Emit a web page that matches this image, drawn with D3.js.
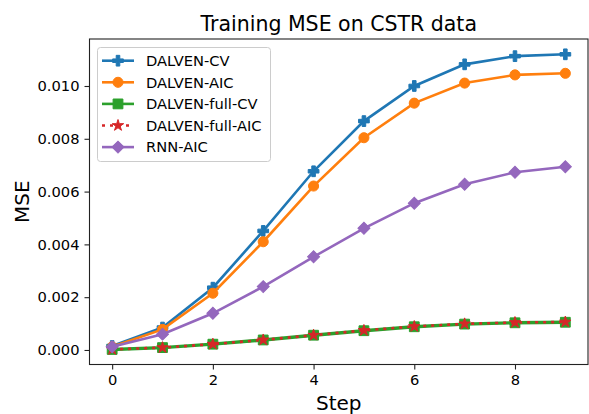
<!DOCTYPE html>
<meta charset="utf-8">
<head>
    <script src="https://d3js.org/d3.v7.min.js"></script>
    <title>Training MSE on CSTR data</title>
    <style>
        body { margin: 0; background: #fff; }
        text { font-family: "DejaVu Sans", sans-serif; fill: #000; }
    </style>
</head>
<body>
    <svg width="589" height="414"></svg>
    <script>
        // data
        var steps = [0, 1, 2, 3, 4, 5, 6, 7, 8, 9];
        var dalvenCV = [0.00015, 0.00085, 0.00236, 0.00451, 0.00677, 0.00867, 0.01000, 0.01082, 0.01113, 0.01120];
        var dalvenAIC = [0.00012, 0.00078, 0.00215, 0.00410, 0.00621, 0.00804, 0.00935, 0.01011, 0.01042, 0.01048];
        var dalvenFullCV = [0.00002, 0.00009, 0.00022, 0.00038, 0.00056, 0.00073, 0.00088, 0.00098, 0.00103, 0.00105];
        var dalvenFullAIC = [0.00002, 0.00009, 0.00022, 0.00038, 0.00056, 0.00074, 0.00089, 0.00099, 0.00104, 0.00106];
        var rnnAIC = [0.00012, 0.00060, 0.00139, 0.00240, 0.00353, 0.00461, 0.00556, 0.00628, 0.00673, 0.00694];
        var xTicks = [0, 2, 4, 6, 8];
        var yTicks = [0, 0.002, 0.004, 0.006, 0.008, 0.010];

        var series = [
            { name: "DALVEN-CV", values: dalvenCV, color: "#1f77b4", marker: "plus", dash: null },
            { name: "DALVEN-AIC", values: dalvenAIC, color: "#ff7f0e", marker: "circle", dash: null },
            { name: "DALVEN-full-CV", values: dalvenFullCV, color: "#2ca02c", marker: "square", dash: null },
            { name: "DALVEN-full-AIC", values: dalvenFullAIC, color: "#d62728", marker: "star", dash: "3,5" },
            { name: "RNN-AIC", values: rnnAIC, color: "#9467bd", marker: "diamond", dash: null }
        ];

        var svg = d3.select("svg");
        var axLeft = 89.5, axRight = 588, axTop = 39, axBottom = 364.5;

        var x = d3.scaleLinear().domain([-0.45, 9.45]).range([axLeft, axRight]);
        var y = d3.scaleLinear().domain([-0.00055, 0.01178]).range([axBottom, axTop]);

        function markerPath(type) {
            if (type == "plus") return d3.symbol(d3.symbolCross, 64)();
            if (type == "circle") return d3.symbol(d3.symbolCircle, 80)();
            if (type == "square") return d3.symbol(d3.symbolSquare, 96)();
            if (type == "star") return d3.symbol(d3.symbolStar, 40)();
            if (type == "diamond") return d3.symbol(d3.symbolSquare, 72)();
        }
        function markerRot(type) {
            return type == "diamond" ? " rotate(45)" : "";
        }

        // axes frame
        svg.append("rect")
            .attr("x", axLeft).attr("y", axTop)
            .attr("width", axRight - axLeft).attr("height", axBottom - axTop)
            .attr("fill", "none").attr("stroke", "#222").attr("stroke-width", 1.1);

        // ticks
        var xAxis = svg.append("g")
            .attr("transform", "translate(0," + axBottom + ")")
            .call(d3.axisBottom(x).tickValues(xTicks).tickSize(5).tickPadding(5).tickFormat(d3.format("d")));
        var yAxis = svg.append("g")
            .attr("transform", "translate(" + axLeft + ",0)")
            .call(d3.axisLeft(y).tickValues(yTicks).tickSize(5).tickPadding(5).tickFormat(d3.format(".3f")));
        [xAxis, yAxis].forEach(function (a) {
            a.select(".domain").remove();
            a.selectAll("line").attr("stroke", "#222").attr("stroke-width", 1.1);
            a.selectAll("text").attr("font-size", "14.7px").attr("font-family", "DejaVu Sans").attr("fill", "#000");
        });

        // lines and markers
        var line = d3.line()
            .x(function (d, i) { return x(steps[i]); })
            .y(function (d) { return y(d); });

        series.forEach(function (s) {
            var g = svg.append("g");
            g.append("path")
                .attr("d", line(s.values))
                .attr("fill", "none")
                .attr("stroke", s.color)
                .attr("stroke-width", s.marker == "square" ? 3.4 : 2.6)
                .attr("stroke-dasharray", s.dash);
            g.selectAll("path.m")
                .data(s.values)
                .enter().append("path")
                .attr("class", "m")
                .attr("d", markerPath(s.marker))
                .attr("transform", function (d, i) { return "translate(" + x(steps[i]) + "," + y(d) + ")" + markerRot(s.marker); })
                .attr("fill", s.color)
                .attr("stroke", s.color)
                .attr("stroke-width", 1);
        });

        // title and axis labels
        svg.append("text")
            .attr("x", (axLeft + axRight) / 2).attr("y", 31)
            .attr("text-anchor", "middle")
            .attr("font-size", "20.5px")
            .text("Training MSE on CSTR data");
        svg.append("text")
            .attr("x", (axLeft + axRight) / 2).attr("y", 410)
            .attr("text-anchor", "middle")
            .attr("font-size", "20px")
            .text("Step");
        svg.append("text")
            .attr("transform", "translate(29," + (axTop + axBottom) / 2 + ") rotate(-90)")
            .attr("text-anchor", "middle")
            .attr("font-size", "20px")
            .text("MSE");

        // legend
        var legend = svg.append("g");
        legend.append("rect")
            .attr("x", 97.5).attr("y", 47.5)
            .attr("width", 173).attr("height", 114)
            .attr("rx", 3)
            .attr("fill", "#fff").attr("fill-opacity", 0.8)
            .attr("stroke", "#ccc").attr("stroke-width", 1);
        var item = legend.selectAll("g.item")
            .data(series)
            .enter().append("g")
            .attr("class", "item")
            .attr("transform", function (d, i) { return "translate(0," + (60.7 + i * 21.6) + ")"; });
        item.append("line")
            .attr("x1", 102).attr("x2", 134)
            .attr("stroke", function (d) { return d.color; })
            .attr("stroke-width", 2.6)
            .attr("stroke-dasharray", function (d) { return d.dash; });
        item.append("path")
            .attr("d", function (d) { return markerPath(d.marker); })
            .attr("transform", function (d) { return "translate(118,0)" + markerRot(d.marker); })
            .attr("fill", function (d) { return d.color; })
            .attr("stroke", function (d) { return d.color; })
            .attr("stroke-width", 1);
        item.append("text")
            .attr("x", 146).attr("y", 5.3)
            .attr("font-size", "14.7px")
            .text(function (d) { return d.name; });
    </script>
</body>
